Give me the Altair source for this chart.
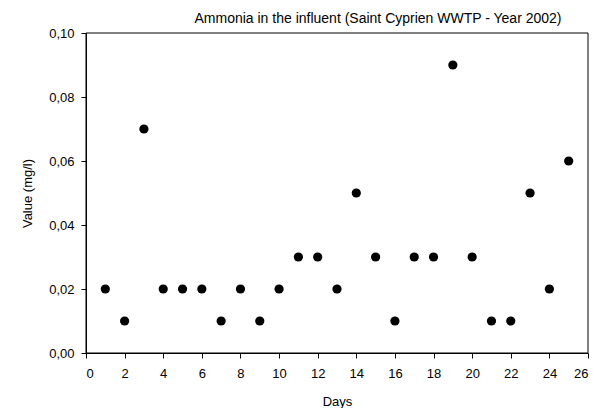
import altair as alt
import pandas as pd

days = list(range(1, 26))
values = [0.02, 0.01, 0.07, 0.02, 0.02, 0.02, 0.01, 0.02, 0.01, 0.02,
          0.03, 0.03, 0.02, 0.05, 0.03, 0.01, 0.03, 0.03, 0.09, 0.03,
          0.01, 0.01, 0.05, 0.02, 0.06]
x_ticks = list(range(0, 27, 2))
y_ticks = [0.0, 0.02, 0.04, 0.06, 0.08, 0.10]
x_domain = [0, 26]
y_domain = [0, 0.10]

df = pd.DataFrame({"Days": days, "Value": values})
box = pd.DataFrame({"x0": [x_domain[0]], "x1": [x_domain[1]],
                    "y0": [y_domain[0]], "y1": [y_domain[1]]})

font = "Liberation Sans"
W, H = 502, 320
xs = alt.Scale(domain=x_domain, nice=False)
ys = alt.Scale(domain=y_domain, nice=False)

x_axis = alt.Axis(values=x_ticks, title="Days", grid=False,
                  labelOverlap=False, titlePadding=15, labelPadding=9)
y_axis = alt.Axis(values=y_ticks, title="Value (mg/l)", grid=False,
                  labelExpr="replace(format(datum.value, '.2f'), '.', ',')",
                  titlePadding=14, labelPadding=7)

frame = alt.Chart(box).mark_rect(fill=None, fillOpacity=0, stroke="black", strokeWidth=1).encode(
    x=alt.X("x0:Q", scale=xs, axis=x_axis),
    x2="x1:Q",
    y=alt.Y("y0:Q", scale=ys, axis=y_axis),
    y2="y1:Q",
)

points = alt.Chart(df).mark_circle(color="black", opacity=1, size=85).encode(
    x=alt.X("Days:Q", scale=xs, axis=x_axis),
    y=alt.Y("Value:Q", scale=ys, axis=y_axis),
)

chart = alt.layer(frame, points).properties(
    width=W, height=H,
    title=alt.Title("Ammonia in the influent (Saint Cyprien WWTP - Year 2002)",
                    font=font, fontSize=14, fontWeight="normal", color="black",
                    dx=41, dy=1, offset=2),
    autosize=alt.AutoSizeParams(type="none"),
    padding={"left": 78, "top": 25, "right": 10, "bottom": 55},
).configure_view(
    stroke=None
).configure_axis(
    domainColor="black", tickColor="black", tickSize=5,
    labelFont=font, labelFontSize=13, labelColor="black",
    titleFont=font, titleFontSize=13, titleFontWeight="normal", titleColor="black",
)

chart.save("out.html", embed_options={"renderer": "svg", "actions": False})
